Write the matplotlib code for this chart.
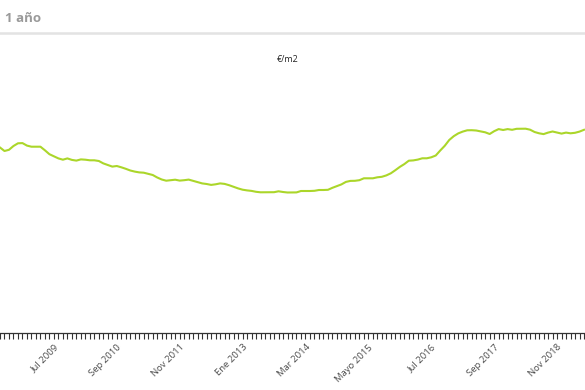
import matplotlib
matplotlib.use("Agg")
import matplotlib.pyplot as plt
import numpy as np

# Monthly values, Jul 2008 .. May 2019 (€/m2, estimated)
values = [
    1855, 1820, 1832, 1870, 1897, 1899, 1874, 1863, 1863, 1863,
    1827, 1788, 1767, 1746, 1733, 1746, 1731, 1724, 1736, 1733,
    1727, 1727, 1720, 1696, 1680, 1664, 1670, 1657, 1642, 1625,
    1614, 1606, 1603, 1591, 1580, 1555, 1535, 1523, 1528, 1533,
    1524, 1528, 1534, 1521, 1507, 1496, 1490, 1481, 1487, 1496,
    1491, 1478, 1462, 1446, 1433, 1426, 1421, 1412, 1407, 1407,
    1407, 1408, 1417, 1410, 1405, 1405, 1406, 1420, 1420, 1420,
    1422, 1430, 1430, 1432, 1452, 1469, 1486, 1511, 1521, 1522,
    1528, 1547, 1547, 1547, 1557, 1562, 1576, 1597, 1628, 1661,
    1689, 1723, 1726, 1734, 1747, 1747, 1757, 1775, 1825, 1872,
    1930, 1968, 1996, 2014, 2027, 2028, 2025, 2016, 2007, 1990,
    2018, 2039, 2030, 2039, 2032, 2042, 2043, 2043, 2033, 2010,
    1997, 1989, 2004, 2015, 2005, 1994, 2004, 1997, 2002, 2014,
    2032,
]
month_index = list(range(len(values)))
tick_positions = [12, 26, 40, 54, 68, 82, 96, 110, 124]
tick_labels = ["Jul 2009", "Sep 2010", "Nov 2011", "Ene 2013", "Mar 2014",
               "Mayo 2015", "Jul 2016", "Sep 2017", "Nov 2018"]

W, H = 585, 390
fig = plt.figure(figsize=(W / 100, H / 100), dpi=100)

ax_bottom_px, ax_top_px = 333, 75
ax = fig.add_axes([0, 1 - ax_bottom_px / H, 1, (ax_bottom_px - ax_top_px) / H])
ax.plot(month_index, values, color="#abd62a", lw=1.5, solid_joinstyle="round")

ax.set_xlim(1 / 4.5, 586 / 4.5)
ax.set_ylim(0, (ax_bottom_px - ax_top_px) * 10)

for s in ["top", "left", "right"]:
    ax.spines[s].set_visible(False)
ax.spines["bottom"].set_color("#333333")
ax.spines["bottom"].set_linewidth(0.9)
ax.set_yticks([])

ax.set_xticks(tick_positions)
ax.set_xticklabels(tick_labels, rotation=45, ha="right", rotation_mode="anchor",
                   fontsize=6.8, color="#4a4a4a", family="Open Sans")
ax.set_xticks(month_index, minor=True)
ax.tick_params(axis="x", which="both", length=4, width=0.8, color="#333333", pad=3)

# header
fig.text(5 / W, 1 - 18 / H, "1 año", fontsize=9.5, color="#9a9a9a", fontweight="bold",
         family="Open Sans", va="center", ha="left")
fig.add_artist(plt.Line2D([0, 1], [1 - 33 / H, 1 - 33 / H], color="#e3e3e3", lw=1.8,
                          transform=fig.transFigure))
fig.text(288 / W, 1 - 60 / H, "€/m2", fontsize=6.5, color="#222222", family="Open Sans",
         va="center", ha="center")

fig.savefig("out.png", dpi=100)
